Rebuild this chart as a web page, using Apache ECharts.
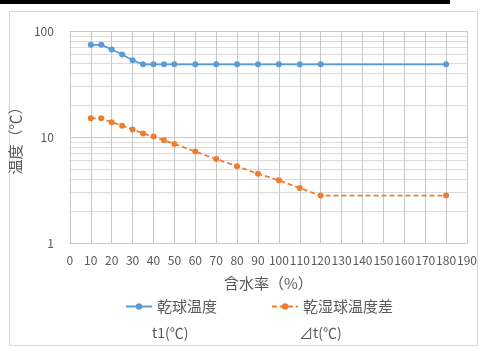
<!DOCTYPE html>
<html>
<head>
<meta charset="utf-8">
<script src="https://cdn.jsdelivr.net/npm/echarts@6/dist/echarts.min.js"></script>
<style>html,body{margin:0;padding:0;background:#fff}#c{width:480px;height:347px}</style>
</head>
<body>
<div id="c"></div>
<script>
const moisture = [10, 15, 20, 25, 30, 35, 40, 45, 50, 60, 70, 80, 90, 100, 110, 120, 180];
const dryBulb = [74, 74, 67, 60, 53, 48.5, 48.5, 48.5, 48.5, 48.5, 48.5, 48.5, 48.5, 48.5, 48.5, 48.5, 48.5];
const diffTemp = [15, 15, 13.8, 12.8, 11.8, 10.8, 10.1, 9.3, 8.6, 7.3, 6.2, 5.3, 4.5, 3.9, 3.3, 2.8, 2.8];
const xGridTicks = [0, 10, 20, 30, 40, 50, 60, 70, 80, 90, 100, 110, 120, 130, 140, 150, 160, 170, 180, 190];
const yMajorTicks = [1, 10, 100];
const yMinorTicks = [2, 3, 4, 5, 6, 7, 8, 9, 20, 30, 40, 50, 60, 70, 80, 90];
const seriesNames = ['乾球温度', '乾湿球温度差'];
const unitLabels = ['t1(℃)', '⊿t(℃)'];

const FONT = '"Noto Sans CJK JP", "Noto Sans", sans-serif';
const GRID = '#C8C8C8';
const MINOR = '#DCDCDC';
const chart = echarts.init(document.getElementById('c'));
chart.setOption({
  animation: false,
  textStyle: { fontFamily: FONT },
  grid: { left: 67, right: 8, top: 31, bottom: 104, containLabel: false },
  xAxis: {
    type: 'value', min: 0, max: 190, interval: 10,
    name: '含水率（%）', nameLocation: 'middle', nameGap: 33,
    nameTextStyle: { color: '#595959', fontSize: 15, fontFamily: FONT },
    axisLine: { show: true, lineStyle: { color: GRID, width: 1 } },
    axisTick: { show: false },
    axisLabel: { color: '#595959', fontSize: 12, margin: 11, fontFamily: FONT },
    splitLine: { show: false }
  },
  yAxis: {
    type: 'log', logBase: 10, min: 1, max: 100,
    name: '温度（℃）', nameLocation: 'middle', nameGap: 28,
    nameTextStyle: { color: '#595959', fontSize: 15, fontFamily: FONT },
    axisLine: { show: false },
    axisTick: { show: false },
    axisLabel: { color: '#595959', fontSize: 12, margin: 16, fontFamily: FONT },
    splitLine: { show: false }
  },
  legend: {
    left: 120, top: 294, itemWidth: 26, itemHeight: 8, itemGap: 54,
    textStyle: { color: '#595959', fontSize: 15, fontFamily: FONT },
    data: seriesNames
  },
  graphic: [
    { type: 'rect', shape: { x: 0, y: 0, width: 450, height: 4 }, style: { fill: '#000' }, silent: true },
    { type: 'rect', shape: { x: 9.5, y: 11.5, width: 468, height: 334 }, style: { fill: 'none', stroke: '#D9D9D9', lineWidth: 1 }, silent: true },
    { type: 'text', left: 152, top: 326, style: { text: unitLabels[0], fill: '#595959', font: '14px ' + FONT } },
    { type: 'text', left: 299, top: 326, style: { text: unitLabels[1], fill: '#595959', font: '14px ' + FONT } }
  ],
  series: [
    {
      name: 'grid', type: 'line', z: 1, silent: true,
      data: [[xGridTicks[0], yMajorTicks[0]], [xGridTicks[xGridTicks.length - 1], yMajorTicks[0]]],
      symbol: 'none', showSymbol: false,
      lineStyle: { opacity: 0, width: 0 },
      markLine: {
        z: 1, silent: true, symbol: ['none', 'none'], label: { show: false },
        emphasis: { disabled: true }, animation: false,
        data: [
          ...yMinorTicks.map(v => ({ yAxis: v, lineStyle: { color: MINOR, type: 'solid', width: 1, opacity: 1 } })),
          ...yMajorTicks.map(v => ({ yAxis: v, lineStyle: { color: GRID, type: 'solid', width: 1, opacity: 1 } })),
          ...xGridTicks.map(v => ({ xAxis: v, lineStyle: { color: GRID, type: 'solid', width: 1, opacity: 1 } }))
        ]
      }
    },
    {
      name: seriesNames[0], type: 'line',
      data: moisture.map((x, i) => [x, dryBulb[i]]),
      symbol: 'circle', symbolSize: 6,
      itemStyle: { color: '#5B9BD5' },
      lineStyle: { color: '#5B9BD5', width: 1.8 },
      z: 3
    },
    {
      name: seriesNames[1], type: 'line',
      data: moisture.map((x, i) => [x, diffTemp[i]]),
      symbol: 'circle', symbolSize: 6,
      itemStyle: { color: '#ED7D31' },
      lineStyle: { color: '#ED7D31', width: 1.8, type: [5, 3] },
      z: 3
    }
  ]
});
</script>
</body>
</html>
